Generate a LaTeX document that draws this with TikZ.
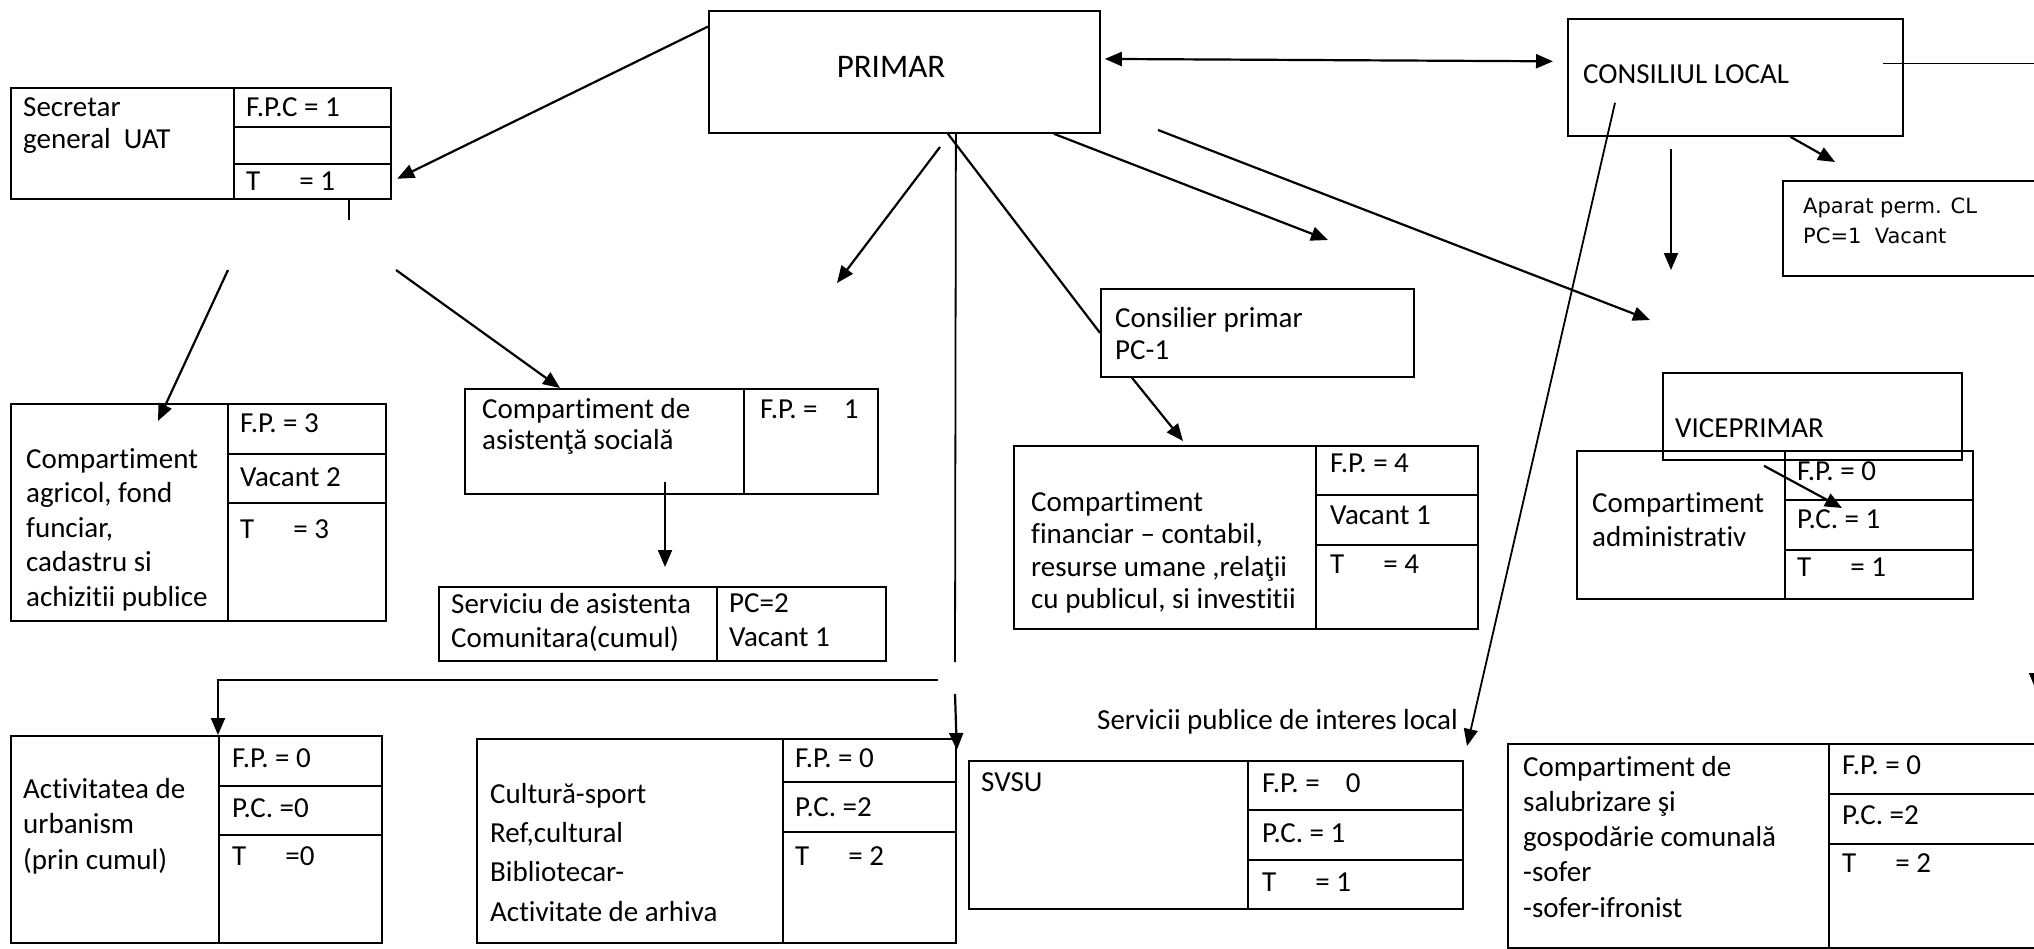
\documentclass[tikz,border=0pt]{standalone}
\usepackage{fontspec}
\setmainfont{Carlito}[Ligatures=NoCommon]
\newfontfamily\aparatfont{DejaVu Sans}
\usetikzlibrary{arrows.meta}
\begin{document}
\begin{tikzpicture}[x=1pt,y=-1pt,
	every node/.style={inner sep=0pt, font=\fontsize{29}{34.5}\selectfont},
	lead/.style={font=\fontsize{29}{#1}\selectfont},
	box/.style={draw, line width=1.8pt, anchor=north west},
	txt/.style={anchor=west},
	ml/.style={anchor=north west, align=left},
	arr/.style={line width=2.2pt, -{Triangle[length=17pt,width=14pt]}},
	ln/.style={line width=2.2pt}]
	
	\useasboundingbox (0,0) rectangle (2034,948);
	
	% top row
	\node[box, minimum width=391pt, minimum height=122pt] (primar) at (708,10) {};
	\node[font=\fontsize{33}{40}\selectfont] (primarT) at (891,67) {PRIMAR};
	\node[box, minimum width=335pt, minimum height=117pt] (cl) at (1567,18) {};
	\node[txt] (clT) at (1583,74) {CONSILIUL LOCAL};
	\node[box, minimum width=252pt, minimum height=95pt] (aparat) at (1782,180) {};
	\node[ml, font=\aparatfont\fontsize{21}{30}\selectfont] (aparatT) at (1803,198) {Aparat perm. CL\\PC=1~~Vacant};
	
	% secretar general
	\node[box, minimum width=380pt, minimum height=111pt] (sec) at (10,87) {};
	\node[box, minimum width=157pt, minimum height=39pt] (sec1) at (233,87) {};
	\node[box, minimum width=157pt, minimum height=37pt] (sec2) at (233,126) {};
	\node[box, minimum width=157pt, minimum height=35pt] (sec3) at (233,163) {};
	\node[ml, lead=32] (secT) at (23,97) {Secretar\\general~~UAT};
	\node[txt] at (246,107) {F.P.C = 1};
	\node[txt] at (246,181) {T\hspace{1.35em}= 1};
	
	% agricol
	\node[box, minimum width=375pt, minimum height=217pt] (agr) at (10,403) {};
	\node[box, minimum width=158pt, minimum height=50pt] (agr1) at (227,403) {};
	\node[box, minimum width=158pt, minimum height=49pt] (agr2) at (227,453) {};
	\node[box, minimum width=158pt, minimum height=118pt] (agr3) at (227,502) {};
	\node[ml] (agrT) at (26,448) {Compartiment\\agricol, fond\\funciar,\\cadastru si\\achizitii publice};
	\node[txt] at (240,423) {F.P. = 3};
	\node[txt] at (240,477) {Vacant 2};
	\node[txt] at (240,529) {T\hspace{1.35em}= 3};
	
	% asistenta sociala
	\node[box, minimum width=413pt, minimum height=105pt] (asis) at (464,388) {};
	\node[box, minimum width=134pt, minimum height=105pt] (asis1) at (743,388) {};
	\node[ml, lead=31] (asisT) at (482,398) {Compartiment de\\asistenţă socială};
	\node[txt] at (760,409) {F.P. =\hspace{0.9em}1};
	
	\node[box, minimum width=447pt, minimum height=74pt] (serv) at (438,586) {};
	\node[box, minimum width=169pt, minimum height=74pt] (serv1) at (716,586) {};
	\node[ml] (servT) at (451,593) {Serviciu de asistenta\\Comunitara(cumul)};
	\node[ml] at (729,593) {PC=2\\Vacant 1};
	
	% consilier, financiar
	\node[box, minimum width=313pt, minimum height=88pt] (cons) at (1100,288) {};
	\node[ml, lead=32] (consT) at (1115,307) {Consilier primar\\PC-1};
	\node[box, minimum width=464pt, minimum height=183pt] (fin) at (1013,445) {};
	\node[box, minimum width=162pt, minimum height=49pt] (fin1) at (1315,445) {};
	\node[box, minimum width=162pt, minimum height=50pt] (fin2) at (1315,494) {};
	\node[box, minimum width=162pt, minimum height=84pt] (fin3) at (1315,544) {};
	\node[ml, lead=32.5] (finT) at (1031,491) {Compartiment\\financiar -- contabil,\\resurse umane ,relaţii\\cu publicul, si investitii};
	\node[txt] at (1330,463) {F.P. = 4};
	\node[txt] at (1330,515) {Vacant 1};
	\node[txt] at (1330,564) {T\hspace{1.35em}= 4};
	
	% viceprimar, administrativ
	\node[box, minimum width=299pt, minimum height=87pt] (vice) at (1662,372) {};
	\node[txt] (viceT) at (1675,428) {VICEPRIMAR};
	\node[box, minimum width=396pt, minimum height=148pt] (adm) at (1576,450) {};
	\node[box, minimum width=188pt, minimum height=49pt] (adm1) at (1784,450) {};
	\node[box, minimum width=188pt, minimum height=50pt] (admPC) at (1784,499) {};
	\node[box, minimum width=188pt, minimum height=49pt] (adm3) at (1784,549) {};
	\node[ml] (admT) at (1592,492) {Compartiment\\administrativ};
	\node[txt] at (1797,471) {F.P. = 0};
	\node[txt] at (1797,519) {P.C. = 1};
	\node[txt] at (1797,567) {T\hspace{1.35em}= 1};
	
	% bottom row
	\node[box, minimum width=371pt, minimum height=207pt] (act) at (10,735) {};
	\node[box, minimum width=163pt, minimum height=50pt] (actFP) at (218,735) {};
	\node[box, minimum width=163pt, minimum height=49pt] (act2) at (218,785) {};
	\node[box, minimum width=163pt, minimum height=108pt] (act3) at (218,834) {};
	\node[ml, lead=35.5] (actT) at (23,778) {Activitatea de\\urbanism\\(prin cumul)};
	\node[txt] at (232,758) {F.P. = 0};
	\node[txt] at (232,808) {P.C. =0};
	\node[txt] at (232,856) {T\hspace{1.35em}=0};
	
	\node[box, minimum width=479pt, minimum height=204pt] (cult) at (476,738) {};
	\node[box, minimum width=173pt, minimum height=43pt] (cultFP) at (782,738) {};
	\node[box, minimum width=173pt, minimum height=50pt] (cult2) at (782,781) {};
	\node[box, minimum width=173pt, minimum height=111pt] (cult3) at (782,831) {};
	\node[ml, lead=39.3] (cultT) at (490,783) {Cultură-sport\\Ref,cultural\\Bibliotecar-\\Activitate de arhiva};
	\node[txt] at (795,758) {F.P. = 0};
	\node[txt] at (795,807) {P.C. =2};
	\node[txt] at (795,856) {T\hspace{1.35em}= 2};
	
	\node[txt] (servPub) at (1097,722) {Servicii publice de interes local};
	\node[box, minimum width=494pt, minimum height=148pt] (svsu) at (968,760) {};
	\node[box, minimum width=215pt, minimum height=49pt] (svsu1) at (1247,760) {};
	\node[box, minimum width=215pt, minimum height=50pt] (svsu2) at (1247,809) {};
	\node[box, minimum width=215pt, minimum height=49pt] (svsu3) at (1247,859) {};
	\node[txt] (svsuT) at (981,782) {SVSU};
	\node[txt] at (1262,783) {F.P. =\hspace{0.9em}0};
	\node[txt] at (1262,833) {P.C. = 1};
	\node[txt] at (1262,882) {T\hspace{1.35em}= 1};
	
	\node[box, minimum width=530pt, minimum height=204pt] (salub) at (1507,743) {};
	\node[box, minimum width=209pt, minimum height=50pt] (salub1) at (1828,743) {};
	\node[box, minimum width=209pt, minimum height=50pt] (salub2) at (1828,793) {};
	\node[box, minimum width=209pt, minimum height=104pt] (salub3) at (1828,843) {};
	\node[ml, lead=35.2] (salubT) at (1523,756) {Compartiment de\\salubrizare şi\\gospodărie comunală\\-sofer\\-sofer-ifronist};
	\node[txt] at (1842,765) {F.P. = 0};
	\node[txt] at (1842,815) {P.C. =2};
	\node[txt] at (1842,863) {T\hspace{1.35em}= 2};
	
	% free ends
	\coordinate (tick) at (349,220);
	\coordinate (secL) at (228,270);
	\coordinate (secR) at (396,270);
	\coordinate (pLeft) at (940,147);
	\coordinate (pLeftTip) at (837,283);
	\coordinate (pMid) at (1328,240);
	\coordinate (pRight) at (1158,130);
	\coordinate (pRightTip) at (1650,320);
	\coordinate (vBot) at (955,662);
	\coordinate (hR) at (938,680);
	\coordinate (vA) at (955,694);
	\coordinate (clDown) at (1671,149);
	\coordinate (clDownTip) at (1671,270);
	\coordinate (svsuTip) at (1467,746);
	\coordinate (edge) at (2036,690);
	
	% connectors
	\draw[arr, shorten >=6pt] (primar.167) -- (sec3.east);
	\draw[ln] (sec3.south -| tick) -- (tick);
	\draw[line width=2.2pt, {Triangle[length=17pt,width=14pt]}-{Triangle[length=17pt,width=14pt]}, shorten <=4pt, shorten >=14pt] ([yshift=13pt]primar.east) -- ([yshift=16pt]cl.west);
	\draw[line width=1.6pt, -{Triangle[length=17pt,width=14pt]}] ([xshift=-21pt,yshift=14pt]cl.east) -| (edge);
	\draw[arr] ([xshift=55pt]cl.south) -- ([xshift=53pt,yshift=18pt]aparat.north west);
	\draw[arr] (clDown) -- (clDownTip);
	\draw[ln, -{Triangle[length=17pt,width=14pt]}, line width=1.8pt] ([xshift=48pt,yshift=34pt]cl.south west) -- (svsuTip);
	\draw[arr] (pRight) -- (pRightTip);
	\draw[arr] ([xshift=149.5pt]primar.south) -- (pMid);
	\draw[ln] ([xshift=43.5pt]primar.south) -- (cons.west);
	\draw[ln, line width=1.8pt] ([xshift=51.5pt]primar.south) -- (vBot);
	\draw[arr] (hR) -| (actFP.north west);
	\draw[arr] (vA) -- ([yshift=-12pt]cultFP.north east);
	\draw[arr] (pLeft) -- (pLeftTip);
	\draw[arr] ([xshift=32pt]cons.south west) -- ([xshift=170pt,yshift=4pt]fin.north west);
	\draw[arr] (secL) -- ([xshift=148pt,yshift=-18pt]agr.north west);
	\draw[arr] (secR) -- ([xshift=96pt]asis.north west);
	\draw[arr] ([xshift=201pt,yshift=13pt]asis.south west) -- ([xshift=227pt,yshift=19pt]serv.north west);
	\draw[arr] ([xshift=102pt,yshift=-5pt]vice.south west) -- ([xshift=58pt,yshift=-9pt]admPC.north west);
	
\end{tikzpicture}
\end{document}
